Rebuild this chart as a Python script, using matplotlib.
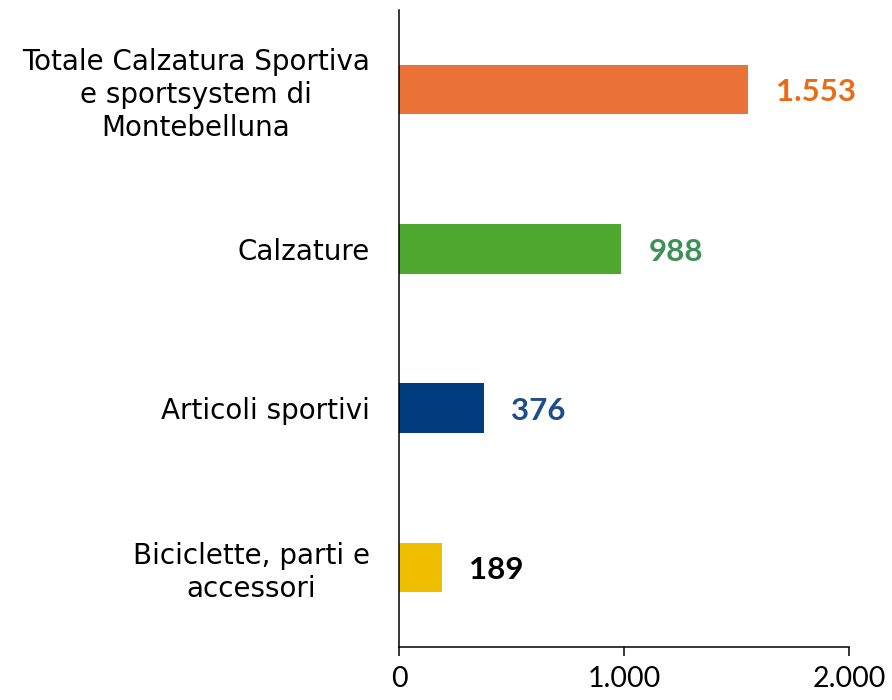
import matplotlib
matplotlib.use("Agg")
import matplotlib.pyplot as plt

categories = ["Totale Calzatura Sportiva\ne sportsystem di\nMontebelluna",
              "Calzature",
              "Articoli sportivi",
              "Biciclette, parti e\naccessori"]
values = [1553, 988, 376, 189]
value_labels = ["1.553", "988", "376", "189"]
bar_colors = ["#EA7236", "#4EA72E", "#003C7E", "#F0BE00"]
text_colors = ["#E96C14", "#3F9056", "#1D4E8A", "#000000"]
xticks = [0, 1000, 2000]
xtick_labels = ["0", "1.000", "2.000"]

plt.rcParams['font.family'] = ['DejaVu Sans']

fig = plt.figure(figsize=(8.92, 7.0), dpi=100)
ax = fig.add_axes([399/892, 53/700, 450/892, 637/700])

ypos = list(range(len(categories)))[::-1]
ax.barh(ypos, values, height=0.31, color=bar_colors)
ax.set_xlim(0, 2000)
ax.set_ylim(-0.5, 3.5)

for y, v, lab, c in zip(ypos, values, value_labels, text_colors):
    ax.annotate(lab, (v, y), xytext=(20, -2), textcoords="offset points",
                ha="left", va="center", fontsize=22.5, fontweight="bold",
                color=c, family=["Lato", "DejaVu Sans"])

ax.set_yticks(ypos)
ax.set_yticklabels(categories, fontsize=20, multialignment="center",
                   linespacing=1.22)
ax.tick_params(axis="y", length=0, pad=21)
ax.set_xticks(xticks)
ax.set_xticklabels(xtick_labels, fontsize=20.5,
                   family=["Lato", "DejaVu Sans"])
ax.tick_params(axis="x", length=6.5, width=1.1, direction="out", pad=7)

for s in ["top", "right"]:
    ax.spines[s].set_visible(False)
for s in ["left", "bottom"]:
    ax.spines[s].set_linewidth(1.1)

fig.savefig("out.png", dpi=100)
